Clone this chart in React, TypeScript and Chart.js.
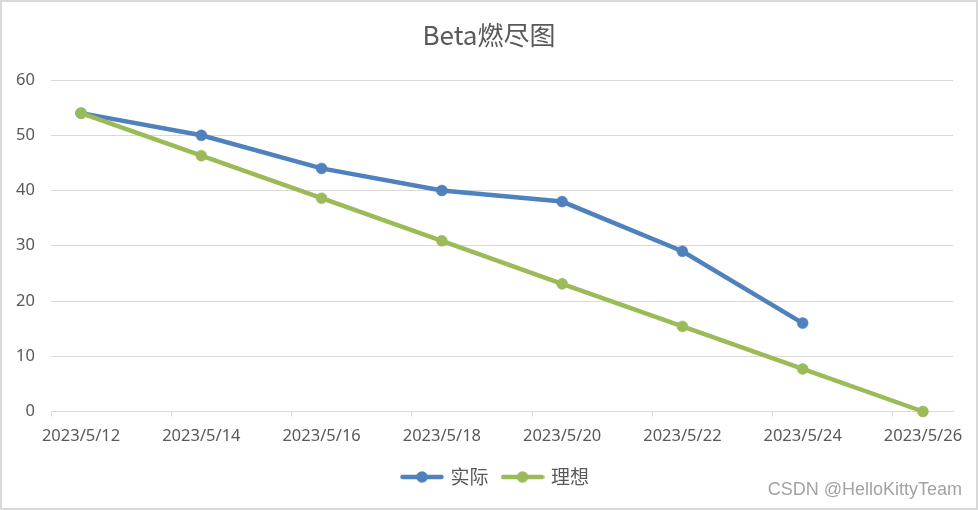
import React, { useEffect, useRef } from "react";
import { Chart, registerables } from "chart.js";

Chart.register(...registerables);

// ---- data ----
const dayLabels = [
  "2023/5/12", "2023/5/13", "2023/5/14", "2023/5/15", "2023/5/16",
  "2023/5/17", "2023/5/18", "2023/5/19", "2023/5/20", "2023/5/21",
  "2023/5/22", "2023/5/23", "2023/5/24", "2023/5/25", "2023/5/26",
];
const sampleDates = [
  "2023/5/12", "2023/5/14", "2023/5/16", "2023/5/18",
  "2023/5/20", "2023/5/22", "2023/5/24", "2023/5/26",
];
const actualValues = [54, 50, 44, 40, 38, 29, 16];
const idealValues = [54, 46.3, 38.6, 30.9, 23.1, 15.4, 7.7, 0];
const seriesNames = ["实际", "理想"];
const titleText = "Beta燃尽图";
const watermarkText = "CSDN @HelloKittyTeam";

const BLUE = "#4f81bd";
const GREEN = "#9bbb59";
const GRID = "#d9d9d9";
const TEXT = "#595959";

function makeMarker(color: string): HTMLCanvasElement {
  const c = document.createElement("canvas");
  c.width = 44;
  c.height = 14;
  const g = c.getContext("2d")!;
  g.strokeStyle = color;
  g.lineWidth = 4.5;
  g.lineCap = "round";
  g.beginPath();
  g.moveTo(2.5, 7);
  g.lineTo(41.5, 7);
  g.stroke();
  g.fillStyle = color;
  g.beginPath();
  g.arc(22, 7, 5.8, 0, Math.PI * 2);
  g.fill();
  return c;
}

export default function App() {
  const ref = useRef<HTMLCanvasElement | null>(null);

  useEffect(() => {
    if (!ref.current) return;
    const markers = [makeMarker(BLUE), makeMarker(GREEN)];

    const framePlugin = {
      id: "frame",
      beforeDraw(chart: any) {
        const { ctx, width, height } = chart;
        ctx.save();
        ctx.fillStyle = "#ffffff";
        ctx.fillRect(0, 0, width, height);
        ctx.strokeStyle = GRID;
        ctx.lineWidth = 2;
        ctx.strokeRect(1, 1, width - 2, height - 2);
        ctx.restore();
      },
      afterLayout(chart: any) {
        const lg = chart.legend;
        if (lg) {
          lg.left += 7;
          lg.right += 7;
        }
      },
      afterDraw(chart: any) {
        const { ctx } = chart;
        ctx.save();
        ctx.font = '18px "Liberation Sans", Arial, sans-serif';
        ctx.fillStyle = "#a3a3a3";
        ctx.textAlign = "right";
        ctx.textBaseline = "middle";
        ctx.fillText(watermarkText, 962, 490);
        ctx.restore();
      },
    };

    const common = {
      borderWidth: 4.5,
      pointRadius: 5.5,
      pointBorderWidth: 0.5,
      pointHoverRadius: 5.5,
      tension: 0,
      clip: false,
    };

    const chart = new Chart(ref.current, {
      type: "line",
      data: {
        labels: dayLabels,
        datasets: [
          {
            ...common,
            label: seriesNames[0],
            data: actualValues.map((v, i) => ({ x: sampleDates[i], y: v })),
            borderColor: BLUE,
            backgroundColor: BLUE,
            order: 1,
          },
          {
            ...common,
            label: seriesNames[1],
            data: idealValues.map((v, i) => ({ x: sampleDates[i], y: v })),
            borderColor: GREEN,
            backgroundColor: GREEN,
            order: 0,
          },
        ],
      },
      options: {
        responsive: false,
        animation: false,
        layout: { padding: { left: 0, right: 0, top: 0, bottom: 13.5 } },
        plugins: {
          title: {
            display: true,
            text: titleText,
            color: TEXT,
            font: { family: '"Noto Sans CJK SC", sans-serif', size: 26, weight: "normal" },
            padding: { top: 20, bottom: 28.8 },
          },
          legend: {
            display: true,
            position: "bottom",
            labels: {
              color: TEXT,
              font: { family: '"Noto Sans CJK SC", sans-serif', size: 19 },
              usePointStyle: true,
              pointStyleWidth: 38,
              padding: 15,
              sort: (a: any, b: any) => a.datasetIndex - b.datasetIndex,
              generateLabels: (c: any) => {
                const items = Chart.defaults.plugins.legend.labels.generateLabels(c);
                return items
                  .map((it: any) => ({ ...it, pointStyle: markers[it.datasetIndex] }))
                  .sort((a: any, b: any) => a.datasetIndex - b.datasetIndex);
              },
            },
          },
          tooltip: { enabled: false },
        },
        scales: {
          x: {
            type: "category",
            offset: true,
            grid: {
              offset: true,
              drawOnChartArea: false,
              drawTicks: true,
              tickLength: 5,
              color: GRID,
              tickColor: (ctx: any) => (ctx.index % 2 === 0 ? GRID : "rgba(0,0,0,0)"),
            },
            border: { display: true, color: GRID, width: 1 },
            ticks: {
              autoSkip: false,
              maxRotation: 0,
              minRotation: 0,
              padding: 10,
              color: TEXT,
              font: { family: '"Noto Sans", sans-serif', size: 16.5 },
              callback: function (this: any, value: any, index: number) {
                return index % 2 === 0 ? dayLabels[index] : "";
              },
            },
            afterFit: (scale: any) => {
              scale.height = 41;
            },
          },
          y: {
            min: 0,
            max: 60,
            grid: { color: GRID, drawTicks: false, lineWidth: 1 },
            border: { display: false },
            ticks: {
              stepSize: 10,
              padding: 16,
              color: TEXT,
              font: { family: '"Noto Sans", sans-serif', size: 16.5 },
            },
            afterFit: (scale: any) => {
              scale.width = 51;
            },
          },
          yRight: {
            position: "right",
            display: true,
            grid: { drawOnChartArea: false, drawTicks: false, display: false },
            border: { display: false },
            ticks: { display: false },
            afterFit: (scale: any) => {
              scale.width = 25;
            },
          },
        },
      },
      plugins: [framePlugin],
    } as any);

    return () => chart.destroy();
  }, []);

  return (
    <div style={{ position: "absolute", left: 0, top: 0, width: 978, height: 510 }}>
      <canvas ref={ref} width={978} height={510} style={{ display: "block" }} />
    </div>
  );
}
